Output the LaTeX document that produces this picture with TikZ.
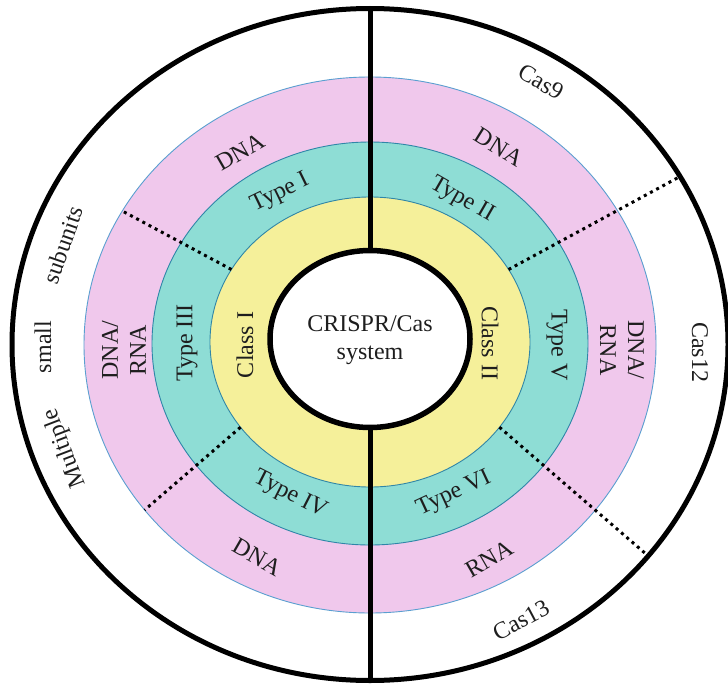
\documentclass[tikz,border=0pt]{standalone}
\usepackage{fontspec}
\setmainfont{Liberation Serif}
\usetikzlibrary{calc}
\definecolor{pinkring}{HTML}{F0C8EC}
\definecolor{tealring}{HTML}{8EDDD5}
\definecolor{yellowring}{HTML}{F5F09A}
\definecolor{pinkedge}{HTML}{5A9FD0}
\definecolor{tealedge}{HTML}{2F86A8}
\definecolor{txt}{HTML}{1E1E1E}
\begin{document}
\begin{tikzpicture}[x=1pt,y=-1pt,
  lbl/.style={font=\fontsize{24}{28}\selectfont, text=txt, inner sep=0pt, align=center},
  dots/.style={line width=3pt, dash pattern=on 3pt off 4pt},
  heavy/.style={line width=5pt, draw=black}
]
\useasboundingbox (0,0) rectangle (728,685);
\fill[white] (0,0) rectangle (728,685);

% centres of the rings
\coordinate (co) at (370,344.5);
\coordinate (cp) at (370,345);
\coordinate (ct) at (370,343.5);
\coordinate (cy) at (370,342);
\coordinate (ci) at (370,339);

% rings
\fill[white] (co) ellipse [x radius=358pt, y radius=336pt];
\filldraw[fill=pinkring, draw=pinkedge, line width=0.9pt] (cp) ellipse [x radius=286pt, y radius=268pt];
\filldraw[fill=tealring, draw=tealedge, line width=0.9pt] (ct) ellipse [x radius=218pt, y radius=201.5pt];
\filldraw[fill=yellowring, draw=tealedge, line width=0.9pt] (cy) ellipse [x radius=160pt, y radius=145pt];

% dotted dividers
\coordinate (tl1) at ($(cy)+(150:160pt and 145pt)$);
\coordinate (tl2) at ($(cp)+(150:286pt and 268pt)$);
\coordinate (tr1) at ($(cy)+(30:160pt and 145pt)$);
\coordinate (tr2) at ($(co)+(30:358pt and 336pt)$);
\coordinate (bl1) at ($(cy)+(216:160pt and 145pt)$);
\coordinate (bl2) at ($(cp)+(218:286pt and 268pt)$);
\coordinate (br1) at ($(cy)+(-36:160pt and 145pt)$);
\coordinate (br2) at ($(co)+(-39:358pt and 336pt)$);
\draw[dots] (tl1) -- (tl2);
\draw[dots] (tr1) -- (tr2);
\draw[dots] (bl1) -- (bl2);
\draw[dots] (br1) -- (br2);

% vertical divider
\coordinate (otop) at ($(co)+(0,-336)$);
\coordinate (obot) at ($(co)+(0,336)$);
\coordinate (itop) at ($(ci)+(0,-88.5)$);
\coordinate (ibot) at ($(ci)+(0,88.5)$);
\draw[heavy] (otop) -- (itop);
\draw[heavy] (ibot) -- (obot);

% centre and outer outlines
\filldraw[fill=white, heavy, line width=5.5pt] (ci) ellipse [x radius=100pt, y radius=88.5pt];
\draw[heavy] (co) ellipse [x radius=358pt, y radius=336pt];

% labels
\node[lbl] (sys) at (370,340) {CRISPR/Cas\\system};
\node[lbl, rotate=90] (c1) at (245,345) {Class I};
\node[lbl, rotate=-90] (c2) at (490,343) {Class II};

\node[lbl, rotate=26] (t1) at (280,193) {Type I};
\node[lbl, rotate=-30] (t2) at (462,200) {Type II};
\node[lbl, rotate=90] (t3) at (187,343) {Type III};
\node[lbl, rotate=-27] (t4) at (290,495) {Type IV};
\node[lbl, rotate=-90] (t5) at (557,345) {Type V};
\node[lbl, rotate=25] (t6) at (454,494) {Type VI};

\node[lbl, rotate=30] (n1) at (240,152) {DNA};
\node[lbl, rotate=-32] (n2) at (499,147) {DNA};
\node[lbl, rotate=90] (n3) at (124,350) {DNA/\\RNA};
\node[lbl, rotate=-30] (n4) at (257,557) {DNA};
\node[lbl, rotate=-90] (n5) at (622,350) {DNA/\\RNA};
\node[lbl, rotate=30] (n6) at (489,559) {RNA};

\node[lbl, rotate=-30] (e2) at (541,82) {Cas9};
\node[lbl, rotate=-90] (e5) at (700,352) {Cas12};
\node[lbl, rotate=28] (e6) at (521,620) {Cas13};
\node[lbl, rotate=71] (m1) at (63,245) {subunits};
\node[lbl, rotate=90] (m2) at (43,347) {small};
\node[lbl, rotate=111] (m3) at (65,448) {Multiple};
\end{tikzpicture}
\end{document}
